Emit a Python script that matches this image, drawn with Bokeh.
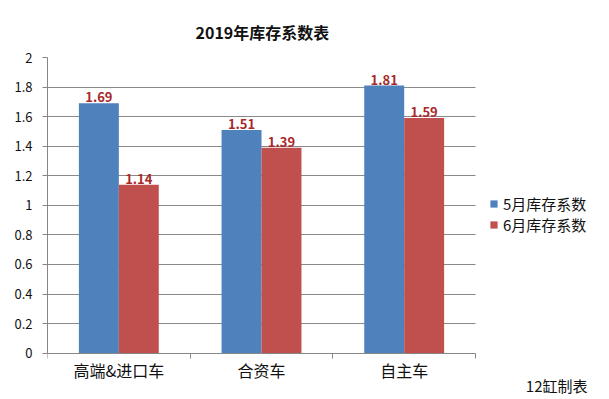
from bokeh.plotting import figure
from bokeh.models import (Range1d, FixedTicker, ColumnDataSource, LabelSet, Legend,
                          LegendItem, Title, Label)
from bokeh.core.properties import value
from bokeh.transform import dodge
from bokeh.embed import file_html
from bokeh.resources import INLINE

categories = ["高端&进口车", "合资车", "自主车"]
may_values = [1.69, 1.51, 1.81]
june_values = [1.14, 1.39, 1.59]
series_names = ["5月库存系数", "6月库存系数"]
y_ticks = [0, 0.2, 0.4, 0.6, 0.8, 1, 1.2, 1.4, 1.6, 1.8, 2]
title_text = "2019年库存系数表"
footnote = "12缸制表"

FONT = "Noto Sans CJK SC"
BLUE = "#4F81BD"
RED = "#C0504D"
LABEL_RED = "#A8282A"
GRID = "#8A8A8A"
AXIS = "#868686"
TXT = "#111111"

n = len(categories)
xs = [i + 0.5 for i in range(n)]
src = ColumnDataSource(dict(
    x=xs,
    zero=[0] * n,
    cat=categories,
    may=may_values,
    june=june_values,
    may_txt=["%.2f" % v for v in may_values],
    june_txt=["%.2f" % v for v in june_values],
))

# The frame is extended to the right and below the value axis so that legend,
# category labels and footnote are drawn inside it; axes and grid are bounded
# to the category span / value span.
p = figure(width=605, height=399, output_backend="svg", toolbar_location=None,
           x_range=Range1d(0, n + 0.911), y_range=Range1d(-0.286, 2),
           min_border_left=47, min_border_right=0, min_border_top=57,
           min_border_bottom=4)
p.outline_line_color = None

p.title = Title(text=title_text, align="left", offset=148, text_font=FONT,
                text_font_size="16px", text_font_style="bold", text_color=TXT,
                standoff=27)

bw = 0.28
r1 = p.vbar(x=dodge("x", -0.14, range=p.x_range), top="may", width=bw, source=src,
            fill_color=BLUE, line_color=None)
r2 = p.vbar(x=dodge("x", 0.14, range=p.x_range), top="june", width=bw, source=src,
            fill_color=RED, line_color=None)

for col, txt, dx in (("may", "may_txt", -0.14), ("june", "june_txt", 0.14)):
    p.add_layout(LabelSet(x=dodge("x", dx, range=p.x_range), y=col, text=txt, source=src,
                          text_align="center", text_baseline="bottom", y_offset=1,
                          text_font=value(FONT), text_font_size=value("13px"),
                          text_font_style=value("bold"), text_color=value(LABEL_RED)))

# category labels under the axis
p.add_layout(LabelSet(x="x", y="zero", text="cat", source=src,
                      text_align="center", text_baseline="middle", y_offset=-17,
                      text_font=value(FONT), text_font_size=value("16px"),
                      text_color=value(TXT)))

# x axis drawn at value 0, tick marks at category boundaries only
p.xaxis.fixed_location = 0
p.xaxis.bounds = (0, n)
p.xaxis.ticker = FixedTicker(ticks=[], minor_ticks=list(range(n + 1)))
p.xaxis.major_tick_line_color = None
p.xaxis.major_tick_out = 0
p.xaxis.major_tick_in = 0
p.xaxis.minor_tick_line_color = AXIS
p.xaxis.minor_tick_out = 5
p.xaxis.minor_tick_in = 0
p.xaxis.axis_line_color = AXIS
p.xaxis.major_label_standoff = 0

# y axis
p.yaxis.bounds = (0, 2)
p.yaxis.ticker = FixedTicker(ticks=y_ticks)
p.yaxis.major_label_overrides = {t: ("%g" % t) for t in y_ticks}
p.yaxis.axis_line_color = AXIS
p.yaxis.major_tick_line_color = AXIS
p.yaxis.major_tick_out = 5
p.yaxis.major_tick_in = 0
p.yaxis.minor_tick_line_color = None
p.yaxis.major_label_text_font = FONT
p.yaxis.major_label_text_font_size = "13px"
p.yaxis.major_label_text_color = TXT
p.yaxis.major_label_standoff = 10

p.xgrid.grid_line_color = None
try:
    p.ygrid.cross_bounds = (0, n)
    p.ygrid.grid_line_color = GRID
except AttributeError:
    p.ygrid.grid_line_color = None
    p.segment(x0=0, x1=n, y0=y_ticks, y1=y_ticks, line_color=GRID, level="underlay")

legend = Legend(items=[LegendItem(label=series_names[0], renderers=[r1]),
                       LegendItem(label=series_names[1], renderers=[r2])],
                location=(442, 160), orientation="vertical",
                label_text_font=FONT, label_text_font_size="15px",
                label_text_color=TXT, glyph_width=9, glyph_height=9,
                label_standoff=5, spacing=0, padding=0, margin=0,
                label_height=16, border_line_color=None, background_fill_alpha=0)
p.add_layout(legend, "center")

p.add_layout(Label(x=n + 0.785, y=-0.2185, text=footnote, text_align="right",
                   text_baseline="middle", text_font=FONT, text_font_size="15px",
                   text_color=TXT))

open("out.html", "w").write(file_html(p, INLINE))
